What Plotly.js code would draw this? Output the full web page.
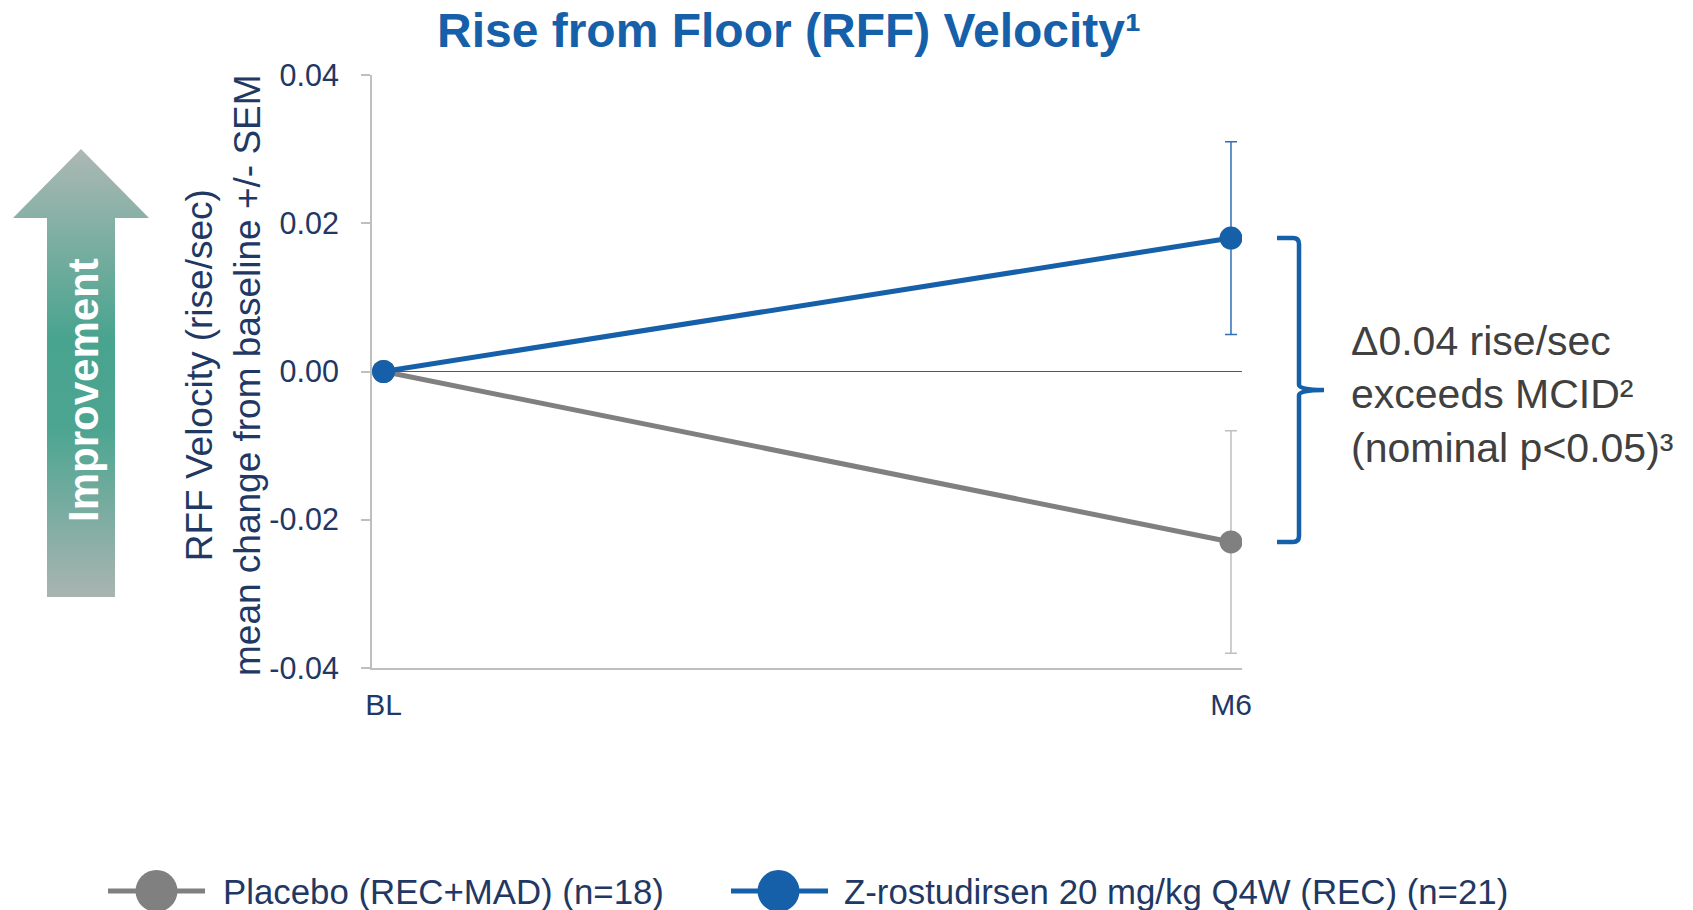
<!DOCTYPE html>
<html>
<head>
<meta charset="utf-8">
<script src="https://cdn.plot.ly/plotly-3.0.1.min.js"></script>
<style>html,body{margin:0;padding:0;background:#fff;}#chart{width:1693px;height:910px;}</style>
</head>
<body>
<div id="chart"></div>
<script>
// ---------- data ----------
const categories = ['BL', 'M6'];
const placeboMean = [0, -0.023];
const placeboSEM = [0, 0.015];
const zrostMean = [0, 0.018];
const zrostSEM = [0, 0.013];
const seriesNames = ['Placebo (REC+MAD) (n=18)', 'Z-rostudirsen 20 mg/kg Q4W (REC) (n=21)'];
const yTickVals = [-0.04, -0.02, 0, 0.02, 0.04];
const yTickText = ['-0.04', '-0.02', '0.00', '0.02', '0.04'];
const titleText = 'Rise from Floor (RFF) Velocity\u00b9';
const yTitleLines = ['RFF Velocity (rise/sec)', 'mean change from baseline +/- SEM'];
const calloutLines = ['\u03940.04 rise/sec', 'exceeds MCID\u00b2', '(nominal p&lt;0.05)\u00b3'];
const arrowLabel = 'Improvement';

// ---------- styling / layout helpers ----------
const W = 1693, H = 910;
const M = {l: 372, r: 451, t: 75, b: 242};
const PW = W - M.l - M.r, PH = H - M.t - M.b;
const px = X => (X - M.l) / PW;           // pixel x -> paper x
const py = Y => (H - M.b - Y) / PH;       // pixel y -> paper y
const FONT = '"Liberation Sans", Arial, sans-serif';
const NAVY = '#1f3864';
const BLUE = '#1660a9';
const GRAY = '#808080';

const traces = [
  {
    x: categories, y: placeboMean, type: 'scatter', mode: 'lines+markers',
    name: seriesNames[0], showlegend: false,
    line: {color: GRAY, width: 5},
    marker: {color: GRAY, size: 23},
    error_y: {type: 'data', array: placeboSEM, visible: true, color: '#bfbfbf', thickness: 1.5, width: 6}
  },
  {
    x: categories, y: zrostMean, type: 'scatter', mode: 'lines+markers',
    name: seriesNames[1], showlegend: false,
    line: {color: BLUE, width: 5},
    marker: {color: BLUE, size: 23},
    error_y: {type: 'data', array: zrostSEM, visible: true, color: '#2f6fb2', thickness: 1.5, width: 6}
  }
];

// bracket spanning the two M6 means
const yT = zrostMean[1], yB = placeboMean[1], yM = (yT + yB) / 2;
const bx0 = px(1277), bx1 = px(1293), bx2 = px(1299), bx3 = px(1324);
const rr = 0.0008, rm = 0.0007;
const bracketPath =
  `M ${bx0},${yT} L ${bx1},${yT} Q ${bx2},${yT} ${bx2},${yT - rr} ` +
  `L ${bx2},${yM + rm} Q ${bx2},${yM} ${bx3},${yM} Q ${bx2},${yM} ${bx2},${yM - rm} ` +
  `L ${bx2},${yB + rr} Q ${bx2},${yB} ${bx1},${yB} L ${bx0},${yB}`;

// legend (drawn manually to match large symbols)
const legY = 891, legR = 21;
const legendItems = [
  {color: GRAY, lx0: 108, lx1: 205, cx: 156.5, tx: 221, text: seriesNames[0]},
  {color: BLUE, lx0: 731, lx1: 828, cx: 778.5, tx: 842, text: seriesNames[1]}
];

const shapes = [
  {type: 'path', xref: 'paper', yref: 'y', path: bracketPath, line: {color: BLUE, width: 4.5}}
];
const annotations = [];
legendItems.forEach(it => {
  shapes.push({type: 'line', xref: 'paper', yref: 'paper', x0: px(it.lx0), x1: px(it.lx1), y0: py(legY), y1: py(legY),
    line: {color: it.color, width: 5}});
  shapes.push({type: 'circle', xref: 'paper', yref: 'paper', x0: px(it.cx - legR), x1: px(it.cx + legR),
    y0: py(legY + legR), y1: py(legY - legR), fillcolor: it.color, line: {width: 0}});
  annotations.push({xref: 'paper', yref: 'paper', x: px(it.tx), y: py(legY), xanchor: 'left', yanchor: 'middle',
    text: it.text, showarrow: false, font: {family: FONT, size: 34.8, color: NAVY}});
});

annotations.push({
  xref: 'paper', yref: 'paper', x: px(223), y: py(375), xanchor: 'center', yanchor: 'middle',
  textangle: -90, text: yTitleLines.join('<br>'), showarrow: false,
  font: {family: FONT, size: 37, color: NAVY}
});
annotations.push({
  xref: 'paper', yref: 'paper', x: px(1349), y: py(394), xanchor: 'left', yanchor: 'middle', align: 'left',
  text: calloutLines.join('<br>'), showarrow: false,
  font: {family: FONT, size: 41, color: '#404040'}
});
annotations.push({
  xref: 'paper', yref: 'paper', x: px(83), y: py(390), xanchor: 'center', yanchor: 'middle',
  textangle: -90, text: '<b>' + arrowLabel + '</b>', showarrow: false,
  font: {family: FONT, size: 42, color: '#ffffff'}
});

// gradient arrow as an SVG image
const arrowSVG =
  '<svg xmlns="http://www.w3.org/2000/svg" width="136" height="448" viewBox="0 0 136 448" preserveAspectRatio="none">' +
  '<defs><linearGradient id="g" x1="0" y1="0" x2="0" y2="1">' +
  '<stop offset="0" stop-color="#adb8b4"/><stop offset="0.42" stop-color="#49a48f"/>' +
  '<stop offset="0.62" stop-color="#4ba591"/><stop offset="1" stop-color="#a9b4b1"/>' +
  '</linearGradient></defs>' +
  '<polygon points="68,0 136,69 102,69 102,448 34,448 34,69 0,69" fill="url(#g)"/></svg>';
const images = [{
  source: 'data:image/svg+xml;charset=utf-8,' + encodeURIComponent(arrowSVG),
  xref: 'paper', yref: 'paper', x: px(13), y: py(149), sizex: px(149) - px(13), sizey: py(149) - py(597),
  xanchor: 'left', yanchor: 'top', sizing: 'stretch', layer: 'above'
}];

const layout = {
  width: W, height: H, margin: M, autosize: false,
  paper_bgcolor: '#ffffff', plot_bgcolor: '#ffffff',
  showlegend: false,
  font: {family: FONT, color: NAVY},
  title: {
    text: '<b>' + titleText + '</b>', font: {family: FONT, size: 48, color: BLUE},
    xref: 'container', yref: 'container', x: 789 / W, xanchor: 'center', y: 1 - 30 / H, yanchor: 'middle'
  },
  xaxis: {
    type: 'category', range: [-0.0136, 1.013], showgrid: false, zeroline: false,
    showline: true, linecolor: '#bfbfbf', linewidth: 2, ticks: '',
    tickfont: {family: FONT, size: 30, color: NAVY}, ticklabelstandoff: 9, fixedrange: true
  },
  yaxis: {
    range: [-0.04, 0.04], tickvals: yTickVals, ticktext: yTickText, showgrid: false,
    zeroline: true, zerolinecolor: '#595959', zerolinewidth: 1.2,
    showline: true, linecolor: '#bfbfbf', linewidth: 2, ticks: 'outside', ticklen: 9, tickcolor: '#bfbfbf', tickwidth: 2,
    tickfont: {family: FONT, size: 30.5, color: NAVY}, ticklabelstandoff: 16, fixedrange: true
  },
  shapes: shapes, annotations: annotations, images: images
};

Plotly.newPlot('chart', traces, layout, {displayModeBar: false, staticPlot: true});
</script>
</body>
</html>
